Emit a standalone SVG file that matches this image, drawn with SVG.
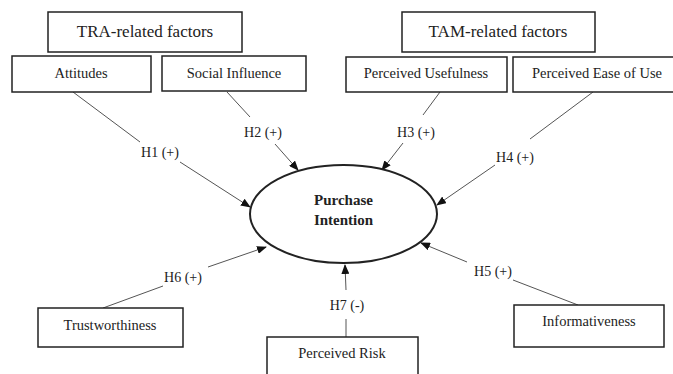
<svg xmlns="http://www.w3.org/2000/svg" width="673" height="374" viewBox="0 0 673 374">
<style>
.box{fill:#fff;stroke:#222;stroke-width:1.5}
.t{font-family:"Liberation Serif","Times New Roman",serif;font-size:14.5px;fill:#222;text-anchor:middle;dominant-baseline:central}
.h{font-size:14px}
.big{font-size:17px}
.b{font-weight:bold;font-size:15px}
.ln{stroke:#555;stroke-width:1;fill:none}
.ar{stroke:#555;stroke-width:1;fill:none;marker-end:url(#ah)}
</style>
<defs>
<marker id="ah" markerWidth="10" markerHeight="8" refX="9" refY="4" orient="auto" markerUnits="userSpaceOnUse">
<path d="M0,0 L10,4 L0,8 Z" fill="#111"/>
</marker>
</defs>
<rect width="673" height="374" fill="#fff"/>
<g id="connectors">
<line class="ln" x1="73" y1="92" x2="140" y2="142"/>
<line class="ar" x1="180" y1="162" x2="250" y2="207"/>
<text class="t h" x="160" y="152">H1 (+)</text>
<line class="ln" x1="227" y1="92" x2="250" y2="117"/>
<line class="ar" x1="275" y1="144" x2="298" y2="170"/>
<text class="t h" x="263" y="132">H2 (+)</text>
<line class="ln" x1="440" y1="92" x2="423" y2="115"/>
<line class="ar" x1="403" y1="143" x2="382" y2="170"/>
<text class="t h" x="416" y="132">H3 (+)</text>
<line class="ln" x1="593" y1="92" x2="530" y2="139"/>
<line class="ar" x1="495" y1="165" x2="437" y2="205"/>
<text class="t h" x="515" y="157">H4 (+)</text>
<line class="ar" x1="467" y1="262" x2="421" y2="243"/>
<line class="ln" x1="513" y1="280" x2="578" y2="305"/>
<text class="t h" x="493" y="271">H5 (+)</text>
<line class="ln" x1="103" y1="308" x2="163" y2="286"/>
<line class="ar" x1="208" y1="267" x2="266" y2="247"/>
<text class="t h" x="183" y="277">H6 (+)</text>
<line class="ln" x1="346" y1="337" x2="346" y2="319"/>
<line class="ar" x1="346" y1="290" x2="345" y2="265"/>
<text class="t h" x="347" y="305">H7 (-)</text>
</g>
<g id="tra"><rect class="box" x="48" y="12" width="194" height="40"/><text class="t big" x="145" y="31">TRA-related factors</text></g>
<g id="tam"><rect class="box" x="402" y="12" width="193" height="40"/><text class="t big" x="498" y="31">TAM-related factors</text></g>
<g id="attitudes"><rect class="box" x="12" y="56" width="139" height="36"/><text class="t" x="81" y="73">Attitudes</text></g>
<g id="social"><rect class="box" x="162" y="56" width="144" height="35"/><text class="t" x="234" y="73">Social Influence</text></g>
<g id="usefulness"><rect class="box" x="346" y="57" width="161" height="35"/><text class="t" x="426" y="73">Perceived Usefulness</text></g>
<g id="ease"><rect class="box" x="513" y="57" width="165" height="35"/><text class="t" x="597" y="73">Perceived Ease of Use</text></g>
<g id="purchase"><ellipse cx="343.5" cy="214" rx="93.5" ry="49" fill="#fff" stroke="#222" stroke-width="2"/><text class="t b" x="343.5" y="200">Purchase</text><text class="t b" x="343.5" y="220">Intention</text></g>
<g id="trust"><rect class="box" x="38" y="308" width="145" height="39"/><text class="t" x="110" y="325">Trustworthiness</text></g>
<g id="risk"><rect class="box" x="267" y="337" width="151" height="45"/><text class="t" x="342" y="353">Perceived Risk</text></g>
<g id="info"><rect class="box" x="514" y="305" width="150" height="42"/><text class="t" x="589" y="321">Informativeness</text></g>
</svg>
